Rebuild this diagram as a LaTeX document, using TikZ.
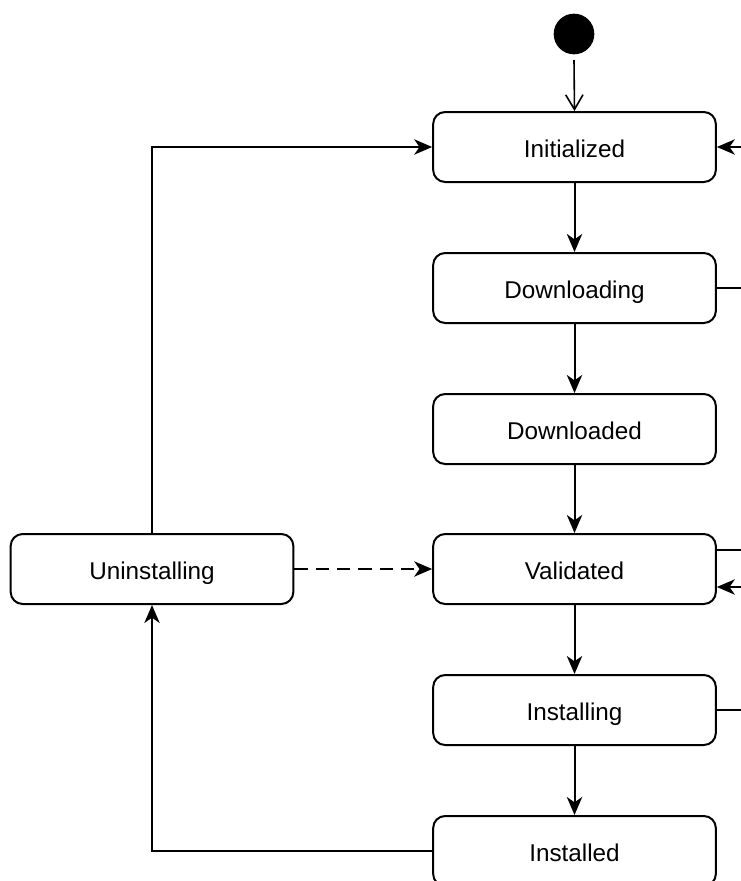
\documentclass[tikz,border=0pt]{standalone}
\usepackage{fontspec}
\setmainfont{Liberation Sans}
\usetikzlibrary{arrows.meta}
\begin{document}
\begin{tikzpicture}[x=0.75pt,y=-0.75pt,
  state/.style={draw, line width=1.5pt, rounded corners=9pt, minimum width=212pt, minimum height=52.5pt, font=\fontsize{18.2}{22}\selectfont, inner sep=0pt, text height=16pt, text depth=0pt},
  conn/.style={line width=1.5pt, -{Stealth[length=13.5pt,width=11.5pt,inset=4pt]}},
  plain/.style={line width=1.5pt},
  openarr/.style={line width=1.2pt, -{Straight Barb[length=11pt,width=13pt]}}]
\useasboundingbox (0,0) rectangle (741,881);
\clip (0,0) rectangle (741,881);
\node[circle, fill=black, minimum size=30.5pt, inner sep=0pt] (init) at (574,34) {};
\node[state] (ini) at (574.5,147) {Initialized};
\node[state] (dl) at (574.5,288) {Downloading};
\node[state] (dld) at (574.5,429) {Downloaded};
\node[state] (val) at (574.5,569) {Validated};
\node[state] (ins) at (574.5,710) {Installing};
\node[state] (insd) at (574.5,851) {Installed};
\node[state] (un) at (152,569) {Uninstalling};
\coordinate (e1) at (760,147);
\coordinate (e2) at (760,288);
\coordinate (e3) at (760,550);
\coordinate (e4) at (760,587);
\coordinate (e5) at (760,710);
\draw[openarr] (574,60) -- (ini.north);
\draw[conn] (ini) -- (dl);
\draw[conn] (dl) -- (dld);
\draw[conn] (dld) -- (val);
\draw[conn] (val) -- (ins);
\draw[conn] (ins) -- (insd);
\draw[conn] (e1) -- (ini.east);
\draw[plain] (dl.east) -- (e2);
\draw[plain] (val.east |- e3) -- (e3);
\draw[conn] (e4) -- (val.east |- e4);
\draw[plain] (ins.east) -- (e5);
\draw[conn] (un.north) |- (ini.west);
\draw[conn] (insd.west) -| (un.south);
\draw[conn, dash pattern=on 10pt off 6pt] (un.east) -- (val.west);
\end{tikzpicture}
\end{document}
